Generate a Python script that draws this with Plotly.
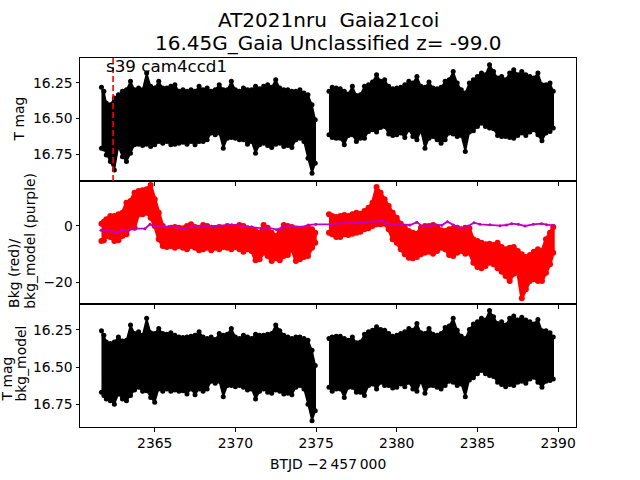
import plotly.graph_objects as go
from plotly.subplots import make_subplots

# ---------------- data ----------------
TITLE_LINE1 = "AT2021nru \u00a0Gaia21coi"
TITLE_LINE2 = "16.45G_Gaia Unclassified z= -99.0"
SECTOR_LABEL = "s39 cam4ccd1"
SECTOR_START = 2362.42

X_TICKS = [2365, 2370, 2375, 2380, 2385, 2390]
MAG_TICKS = [16.25, 16.50, 16.75]
MAG_TICK_TEXT = ["16.25", "16.50", "16.75"]
BKG_TICKS = [-20, 0]
BKG_TICK_TEXT = ["\u221220", "0"]

# time bins, orbit 1 and orbit 2
T_SEG1 = [2361.70, 2361.85, 2362.00, 2362.25, 2362.50, 2362.75, 2363.00, 2363.25, 2363.50, 2363.75,
          2364.00, 2364.25, 2364.50, 2364.75, 2365.00, 2365.25, 2365.50, 2365.75, 2366.00, 2366.25,
          2366.50, 2366.75, 2367.00, 2367.25, 2367.50, 2367.75, 2368.00, 2368.25, 2368.50, 2368.75,
          2369.00, 2369.25, 2369.50, 2369.75, 2370.00, 2370.25, 2370.50, 2370.75, 2371.00, 2371.25,
          2371.50, 2371.75, 2372.00, 2372.25, 2372.50, 2372.75, 2373.00, 2373.25, 2373.50, 2373.75,
          2374.00, 2374.25, 2374.50, 2374.75, 2374.95]
T_SEG2 = [2375.80, 2376.00, 2376.25, 2376.50, 2376.75, 2377.00, 2377.25, 2377.50, 2377.75, 2378.00,
          2378.25, 2378.50, 2378.75, 2379.00, 2379.25, 2379.50, 2379.75, 2380.00, 2380.25, 2380.50,
          2380.75, 2381.00, 2381.25, 2381.50, 2381.75, 2382.00, 2382.25, 2382.50, 2382.75, 2383.00,
          2383.25, 2383.50, 2383.75, 2384.00, 2384.25, 2384.50, 2384.75, 2385.00, 2385.25, 2385.50,
          2385.75, 2386.00, 2386.25, 2386.50, 2386.75, 2387.00, 2387.25, 2387.50, 2387.75, 2388.00,
          2388.25, 2388.50, 2388.75, 2389.00, 2389.25, 2389.50, 2389.70]

# panel 1: T mag, bright edge (top) and faint edge (bottom) of the error-bar band
TMAG_TOP1 = [16.281, 16.309, 16.391, 16.403, 16.356, 16.333, 16.309, 16.298, 16.239, 16.298,
             16.286, 16.298, 16.180, 16.274, 16.286, 16.239, 16.286, 16.286, 16.274, 16.263,
             16.309, 16.298, 16.309, 16.298, 16.309, 16.274, 16.298, 16.286, 16.309, 16.298,
             16.263, 16.298, 16.298, 16.239, 16.298, 16.309, 16.286, 16.298, 16.298, 16.274,
             16.291, 16.274, 16.263, 16.281, 16.227, 16.286, 16.298, 16.298, 16.309, 16.309,
             16.298, 16.321, 16.333, 16.403, 16.509]
TMAG_BOT1 = [16.708, 16.713, 16.755, 16.802, 16.860, 16.696, 16.767, 16.802, 16.743, 16.684,
             16.680, 16.689, 16.680, 16.696, 16.684, 16.661, 16.673, 16.661, 16.684, 16.680,
             16.673, 16.666, 16.680, 16.661, 16.684, 16.661, 16.661, 16.649, 16.602, 16.614,
             16.602, 16.708, 16.638, 16.633, 16.638, 16.649, 16.649, 16.680, 16.661, 16.743,
             16.684, 16.673, 16.689, 16.703, 16.680, 16.673, 16.696, 16.689, 16.703, 16.649,
             16.638, 16.661, 16.778, 16.884, 16.813]
TMAG_TOP2 = [16.309, 16.281, 16.286, 16.291, 16.309, 16.328, 16.274, 16.338, 16.333, 16.274,
             16.263, 16.244, 16.192, 16.239, 16.227, 16.274, 16.291, 16.286, 16.281, 16.263,
             16.239, 16.251, 16.204, 16.274, 16.281, 16.244, 16.286, 16.291, 16.281, 16.239,
             16.227, 16.169, 16.251, 16.298, 16.321, 16.251, 16.227, 16.204, 16.180, 16.192,
             16.122, 16.169, 16.216, 16.204, 16.227, 16.180, 16.157, 16.192, 16.169, 16.192,
             16.204, 16.216, 16.180, 16.263, 16.263, 16.251, 16.309]
TMAG_BOT2 = [16.614, 16.633, 16.638, 16.638, 16.684, 16.619, 16.614, 16.661, 16.638, 16.638,
             16.591, 16.579, 16.595, 16.563, 16.556, 16.609, 16.619, 16.614, 16.602, 16.633,
             16.579, 16.626, 16.649, 16.586, 16.708, 16.638, 16.626, 16.649, 16.673, 16.649,
             16.602, 16.609, 16.626, 16.619, 16.731, 16.595, 16.586, 16.556, 16.532, 16.556,
             16.567, 16.572, 16.619, 16.626, 16.626, 16.633, 16.638, 16.619, 16.602, 16.619,
             16.595, 16.579, 16.614, 16.656, 16.602, 16.591, 16.567]

# panel 2: background (red band) and background model (purple line)
BKG_TOP1 = [0.74, 1.46, 2.28, 3.47, 3.47, 4.06, 4.65, 8.20, 8.80, 11.76,
            12.35, 12.59, 12.94, 14.48, 9.39, 4.65, -0.08, -1.27, -0.68, -0.44,
            -0.68, -0.91, -0.08, 0.51, -0.44, -0.68, 0.27, -0.08, -0.68, -0.91,
            -0.44, -0.68, -0.08, -0.68, -0.44, 0.27, -0.08, -0.91, -1.27, -1.86,
            -2.45, 0.27, -0.68, -2.45, -3.64, -1.86, 0.27, -0.08, -0.44, -1.27,
            -1.62, -1.27, -0.68, -1.27, -2.45]
BKG_BOT1 = [-5.41, -5.18, -3.64, -3.99, -5.41, -5.18, -3.64, -3.04, -0.08, -0.68,
            4.06, 4.06, 4.65, 2.88, -0.08, -4.82, -7.19, -7.54, -7.19, -7.78,
            -7.19, -7.78, -8.37, -7.19, -7.78, -8.73, -8.37, -7.78, -8.73, -7.78,
            -8.37, -7.54, -7.78, -8.37, -7.54, -8.37, -9.20, -8.37, -8.96, -12.28,
            -11.92, -9.56, -10.74, -12.52, -11.57, -12.28, -10.74, -10.38, -8.37, -12.52,
            -11.92, -11.10, -10.74, -7.78, -6.00]
BKG_TOP2 = [4.06, 3.47, 3.11, 3.47, 3.82, 3.47, 4.06, 4.65, 4.30, 5.24,
            6.43, 8.20, 13.77, 11.76, 9.39, 7.02, 4.65, 2.88, 0.74, -0.68,
            -1.86, -2.45, -2.81, -0.68, -0.08, -0.08, 0.27, -0.44, -1.62, -1.86,
            -1.27, -0.91, -0.68, -1.27, -0.68, -0.91, -4.82, -5.41, -6.00, -6.60,
            -6.36, -6.83, -6.00, -7.54, -8.37, -7.78, -7.54, -8.96, -10.15, -11.10,
            -10.38, -9.20, -8.37, -8.96, -4.82, -2.45, -0.44]
BKG_BOT2 = [-2.45, -3.04, -3.99, -3.99, -3.04, -3.28, -2.81, -2.45, -2.10, -1.27,
            -0.91, -0.08, 0.51, 0.51, 0.74, -1.27, -4.82, -6.00, -8.37, -10.15,
            -11.33, -11.57, -11.10, -10.15, -9.56, -9.20, -9.91, -8.96, -7.78, -8.37,
            -10.38, -10.74, -9.56, -8.96, -9.91, -9.56, -13.11, -14.65, -15.12, -14.29,
            -13.11, -13.70, -15.12, -16.30, -17.84, -19.62, -17.02, -16.66, -25.78, -22.58,
            -19.62, -19.03, -19.62, -19.62, -16.66, -13.70, -9.56]

BKG_MODEL_T = [2361.67, 2362.13, 2362.54, 2362.70, 2362.95, 2363.37, 2363.78, 2364.40, 2364.71, 2365.02,
               2365.85, 2366.47, 2366.88, 2367.39, 2368.12, 2368.94, 2369.77, 2370.39, 2371.01, 2371.63,
               2372.04, 2372.56, 2372.87, 2373.39, 2374.11, 2374.52, 2374.98,
               2375.87, 2376.48, 2377.31, 2378.14, 2379.17, 2379.38, 2380.20, 2380.82, 2381.24, 2381.65,
               2382.06, 2382.37, 2382.79, 2383.14, 2383.51, 2384.03, 2384.44, 2384.79, 2385.16, 2385.78,
               2386.40, 2386.81, 2387.12, 2387.54, 2387.95, 2388.47, 2388.98, 2389.29, 2389.71]
BKG_MODEL_V = [-1.62, -1.86, -2.10, -2.45, -1.62, -1.62, -1.03, -1.03, 0.51, -0.20,
               -0.32, -0.68, -0.91, -0.08, 0.03, -0.08, 0.39, -0.08, -0.32, -0.91,
               -0.68, -1.39, -0.68, -0.08, -0.44, 0.27, 0.51,
               0.51, 0.86, 0.98, 1.34, 1.69, 0.74, 0.51, 0.27, 1.22, -0.32,
               0.03, 0.51, 0.15, 1.46, 0.27, -0.91, -0.08, 1.10, 0.51, 0.39,
               0.03, 0.27, 0.74, 0.51, -0.08, 0.51, 0.74, 0.39, 0.15]

# panel 3: T mag - bkg_model
CMAG_TOP1 = [16.256, 16.286, 16.331, 16.342, 16.331, 16.297, 16.324, 16.319, 16.218, 16.274,
             16.263, 16.286, 16.173, 16.270, 16.274, 16.241, 16.274, 16.279, 16.270, 16.286,
             16.297, 16.301, 16.297, 16.292, 16.286, 16.263, 16.297, 16.308, 16.297, 16.315,
             16.274, 16.286, 16.279, 16.241, 16.297, 16.308, 16.286, 16.297, 16.308, 16.279,
             16.286, 16.286, 16.279, 16.274, 16.218, 16.256, 16.286, 16.297, 16.308, 16.297,
             16.297, 16.308, 16.319, 16.387, 16.488]
CMAG_BOT1 = [16.668, 16.690, 16.713, 16.724, 16.747, 16.679, 16.713, 16.724, 16.690, 16.652,
             16.634, 16.661, 16.657, 16.702, 16.735, 16.645, 16.661, 16.645, 16.661, 16.652,
             16.661, 16.657, 16.679, 16.645, 16.684, 16.645, 16.661, 16.645, 16.594, 16.607,
             16.594, 16.697, 16.623, 16.623, 16.630, 16.623, 16.634, 16.652, 16.645, 16.713,
             16.661, 16.645, 16.668, 16.675, 16.652, 16.661, 16.679, 16.675, 16.684, 16.634,
             16.623, 16.645, 16.747, 16.859, 16.792]
CMAG_TOP2 = [16.308, 16.297, 16.292, 16.292, 16.308, 16.319, 16.297, 16.337, 16.331, 16.279,
             16.263, 16.252, 16.229, 16.247, 16.252, 16.274, 16.292, 16.286, 16.274, 16.263,
             16.241, 16.252, 16.207, 16.270, 16.274, 16.241, 16.279, 16.286, 16.274, 16.234,
             16.225, 16.173, 16.252, 16.292, 16.308, 16.247, 16.211, 16.196, 16.173, 16.184,
             16.121, 16.162, 16.207, 16.196, 16.218, 16.173, 16.157, 16.184, 16.166, 16.184,
             16.196, 16.211, 16.180, 16.256, 16.256, 16.270, 16.297]
CMAG_BOT2 = [16.634, 16.661, 16.645, 16.645, 16.702, 16.634, 16.634, 16.668, 16.668, 16.690,
             16.623, 16.612, 16.645, 16.601, 16.623, 16.623, 16.639, 16.634, 16.612, 16.630,
             16.601, 16.645, 16.661, 16.594, 16.675, 16.623, 16.623, 16.634, 16.645, 16.623,
             16.594, 16.601, 16.623, 16.612, 16.697, 16.585, 16.571, 16.544, 16.522, 16.544,
             16.556, 16.562, 16.601, 16.616, 16.630, 16.616, 16.623, 16.601, 16.594, 16.607,
             16.578, 16.567, 16.601, 16.634, 16.594, 16.589, 16.578]

for a in (TMAG_TOP1, TMAG_BOT1, BKG_TOP1, BKG_BOT1, CMAG_TOP1, CMAG_BOT1):
    assert len(a) == len(T_SEG1), len(a)
for a in (TMAG_TOP2, TMAG_BOT2, BKG_TOP2, BKG_BOT2, CMAG_TOP2, CMAG_BOT2):
    assert len(a) == len(T_SEG2), len(a)
assert len(BKG_MODEL_T) == len(BKG_MODEL_V)

# ---------------- figure ----------------
FONT = "DejaVu Sans"
BLACK, RED, PURPLE = "#000000", "#ff0000", "#bf00bf"

fig = make_subplots(rows=3, cols=1, shared_xaxes=True, vertical_spacing=0)


def band(t, top, bot, color, row, msize, lw):
    xs = list(t) + list(t)[::-1]
    ys = list(top) + list(bot)[::-1]
    fig.add_trace(go.Scatter(x=xs, y=ys, mode="lines", fill="toself", fillcolor=color,
                             line=dict(color=color, width=lw), hoverinfo="skip",
                             showlegend=False), row=row, col=1)
    fig.add_trace(go.Scatter(x=list(t) + list(t), y=list(top) + list(bot), mode="markers",
                             marker=dict(color=color, size=msize), hoverinfo="skip",
                             showlegend=False), row=row, col=1)


band(T_SEG1, TMAG_TOP1, TMAG_BOT1, BLACK, 1, 5, 1.5)
band(T_SEG2, TMAG_TOP2, TMAG_BOT2, BLACK, 1, 5, 1.5)
band(T_SEG1, BKG_TOP1, BKG_BOT1, RED, 2, 6, 3)
band(T_SEG2, BKG_TOP2, BKG_BOT2, RED, 2, 6, 3)
fig.add_trace(go.Scatter(x=BKG_MODEL_T, y=BKG_MODEL_V, mode="lines+markers",
                         line=dict(color=PURPLE, width=1.8), marker=dict(color=PURPLE, size=3),
                         showlegend=False), row=2, col=1)
band(T_SEG1, CMAG_TOP1, CMAG_BOT1, BLACK, 3, 5, 1.5)
band(T_SEG2, CMAG_TOP2, CMAG_BOT2, BLACK, 3, 5, 1.5)

fig.add_vline(x=SECTOR_START, row=1, col=1,
              line=dict(color=RED, width=1.6, dash="6px,3px"), layer="above")

axis_style = dict(showline=True, linecolor="black", linewidth=1, mirror=True,
                  ticks="outside", ticklen=3.5, tickwidth=0.8, tickcolor="black",
                  showgrid=False, zeroline=False,
                  tickfont=dict(family=FONT, size=13.9, color="black"))

fig.update_xaxes(**axis_style, range=[2360.37, 2391.11], tickvals=X_TICKS,
                 ticktext=[str(v) for v in X_TICKS])
fig.update_yaxes(**axis_style)
fig.update_yaxes(range=[16.938, 16.075], tickvals=MAG_TICKS, ticktext=MAG_TICK_TEXT, row=1, col=1)
fig.update_yaxes(range=[-27.8, 15.9], tickvals=BKG_TICKS, ticktext=BKG_TICK_TEXT, row=2, col=1)
fig.update_yaxes(range=[16.90, 16.077], tickvals=MAG_TICKS, ticktext=MAG_TICK_TEXT, row=3, col=1)

PLOT_L, PLOT_W, PLOT_B, PLOT_H = 80, 496, 427, 369


def px(xp):
    return (xp - PLOT_L) / PLOT_W


def py(yp):
    return (PLOT_B - yp) / PLOT_H


ann = []
ann.append(dict(text=TITLE_LINE1, x=0.5, y=py(20), xanchor="center", yanchor="middle",
                font=dict(size=20)))
ann.append(dict(text=TITLE_LINE2, x=0.5, y=py(43), xanchor="center", yanchor="middle",
                font=dict(size=20)))
ann.append(dict(text=SECTOR_LABEL, x=px(104), y=py(66), xanchor="left", yanchor="middle",
                font=dict(size=16.7)))
ann.append(dict(text="BTJD \u22122\u2009457\u2009000", x=0.5, y=py(464), xanchor="center",
                yanchor="middle", font=dict(size=13.9)))
ann.append(dict(text="T mag", x=px(19), y=py(119.5), xanchor="center", yanchor="middle",
                textangle=-90, font=dict(size=13.9)))
ann.append(dict(text="Bkg (red)/", x=px(14), y=py(310.4), xanchor="center", yanchor="bottom",
                textangle=-90, font=dict(size=13.9)))
ann.append(dict(text="bkg_model (purple)", x=px(30.3), y=py(310.4), xanchor="center",
                yanchor="bottom", textangle=-90, font=dict(size=13.9)))
ann.append(dict(text="T mag", x=px(6.5), y=py(403.5), xanchor="center", yanchor="bottom",
                textangle=-90, font=dict(size=13.9)))
ann.append(dict(text="bkg_model", x=px(20), y=py(403.5), xanchor="center", yanchor="bottom",
                textangle=-90, font=dict(size=13.9)))
for a in ann:
    a.update(xref="paper", yref="paper", showarrow=False)
    a["font"].update(family=FONT, color="black")

fig.update_layout(width=640, height=480, margin=dict(l=80, r=64, t=58, b=53, pad=0),
                  plot_bgcolor="white", paper_bgcolor="white",
                  font=dict(family=FONT, color="black"), showlegend=False,
                  annotations=ann)

fig.write_html("out.html", config={"displayModeBar": False},
               post_script="document.body.style.margin='0';")
